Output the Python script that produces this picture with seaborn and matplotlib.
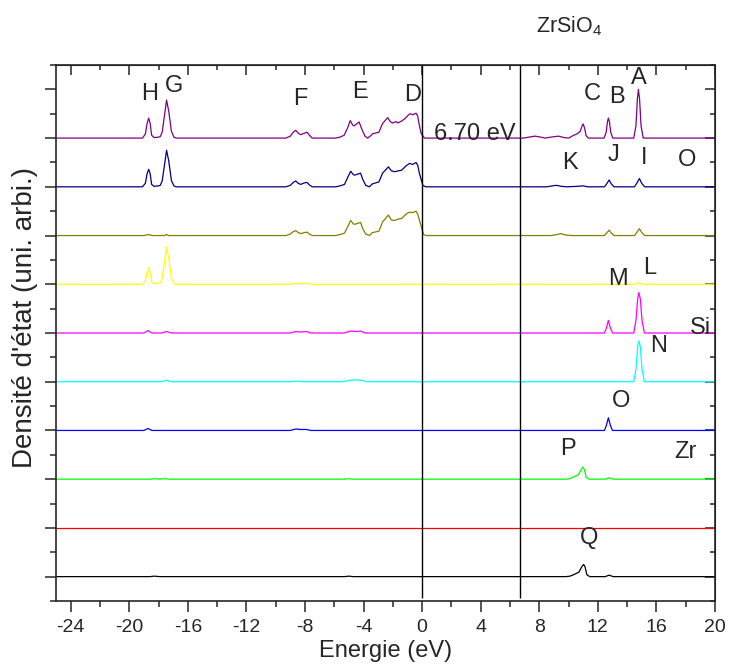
import numpy as np
import pandas as pd
import matplotlib
matplotlib.use('Agg')
import matplotlib.pyplot as plt
import seaborn as sns

# partial DOS curves: (energy eV, density above own baseline)
black = [(-25, 0), (-18.6, 0), (-18.3, 0.01), (-17.9, 0), (-5.3, 0), (-5.0, 0.01), (-4.7, 0),
         (9.8, 0), (10.1, 0.01), (10.35, 0.04), (10.7, 0.09), (10.9, 0.2), (11.03, 0.25),
         (11.13, 0.2), (11.25, 0.04), (11.45, 0), (12.5, 0), (12.77, 0.03), (13.05, 0), (20, 0)]
red = [(-25, 0), (20, 0)]
green = [(-25, 0), (-18.6, 0), (-18.3, 0.01), (-17.9, 0), (-17.6, 0.01), (-17.2, 0),
         (-5.3, 0), (-5.0, 0.01), (-4.7, 0),
         (9.8, 0), (10.1, 0.01), (10.32, 0.04), (10.66, 0.09), (10.87, 0.2), (10.98, 0.25),
         (11.08, 0.2), (11.2, 0.04), (11.4, 0), (12.5, 0), (12.77, 0.03), (13.05, 0), (20, 0)]
blue = [(-25, 0), (-19.0, 0), (-18.72, 0.04), (-18.45, 0),
        (-9.0, 0), (-8.63, 0.03), (-8.3, 0.02), (-7.9, 0.02), (-7.6, 0),
        (12.45, 0), (12.58, 0.1), (12.72, 0.26), (12.86, 0.1), (13.0, 0), (20, 0)]
cyan = [(-25, 0), (-17.8, 0), (-17.45, 0.03), (-17.1, 0),
        (-9.0, 0), (-8.5, 0.01), (-8.0, 0),
        (-5.5, 0), (-4.9, 0.03), (-4.5, 0.04), (-4.1, 0.03), (-3.8, 0),
        (14.45, 0), (14.6, 0.25), (14.72, 0.72), (14.8, 0.84), (14.9, 0.72), (15.02, 0.25),
        (15.18, 0), (20, 0)]
magenta = [(-25, 0), (-19.0, 0), (-18.72, 0.05), (-18.45, 0), (-17.8, 0), (-17.45, 0.03), (-17.1, 0),
           (-9.0, 0), (-8.63, 0.03), (-8.3, 0.02), (-7.9, 0.03), (-7.6, 0),
           (-5.3, 0), (-4.9, 0.04), (-4.5, 0.03), (-4.2, 0.04), (-3.9, 0),
           (12.45, 0), (12.58, 0.1), (12.72, 0.26), (12.86, 0.1), (13.0, 0),
           (14.45, 0), (14.6, 0.25), (14.72, 0.7), (14.8, 0.83), (14.9, 0.7), (15.02, 0.25),
           (15.18, 0), (20, 0)]
yellow = [(-25, 0), (-19.1, 0), (-18.9, 0.07), (-18.78, 0.25), (-18.67, 0.34), (-18.57, 0.25),
          (-18.47, 0.05), (-18.3, 0.01), (-18.0, 0.02), (-17.88, 0.03), (-17.75, 0.12),
          (-17.6, 0.43), (-17.45, 0.76), (-17.3, 0.53), (-17.12, 0.13), (-16.95, 0.02), (-16.8, 0),
          (-9.0, 0), (-8.63, 0.02), (-8.3, 0.01), (-7.85, 0.02), (-7.5, 0),
          (14.5, 0), (14.8, 0.03), (15.1, 0), (20, 0)]
olive = [(-25, 0), (-19.0, 0), (-18.7, 0.02), (-18.4, 0), (-17.6, 0), (-17.45, 0.02), (-17.3, 0),
         (-9.3, 0), (-9.0, 0.03), (-8.8, 0.08), (-8.63, 0.1), (-8.45, 0.06), (-8.29, 0.04),
         (-8.05, 0.06), (-7.85, 0.07), (-7.7, 0.03), (-7.5, 0),
         (-5.9, 0), (-5.6, 0.02), (-5.3, 0.05), (-5.1, 0.17), (-4.88, 0.31), (-4.7, 0.24),
         (-4.6, 0.23), (-4.2, 0.27), (-4.05, 0.14), (-3.85, 0.03), (-3.6, 0.0), (-3.4, 0.06),
         (-2.95, 0.09), (-2.7, 0.28), (-2.3, 0.42), (-2.1, 0.32), (-1.88, 0.31), (-1.6, 0.34),
         (-1.4, 0.35), (-1.1, 0.44), (-0.86, 0.48), (-0.65, 0.47), (-0.41, 0.5), (-0.3, 0.44),
         (-0.12, 0.25), (0.1, 0.02), (0.3, 0),
         (8.8, 0), (9.2, 0.02), (9.47, 0.04), (9.8, 0.01), (10.2, 0),
         (12.45, 0), (12.6, 0.05), (12.77, 0.11), (12.92, 0.05), (13.1, 0),
         (14.5, 0), (14.65, 0.06), (14.84, 0.14), (15.0, 0.06), (15.2, 0), (20, 0)]
navy = [(-25, 0), (-19.1, 0), (-18.9, 0.07), (-18.78, 0.27), (-18.67, 0.36), (-18.57, 0.27),
        (-18.47, 0.05), (-18.3, 0.01), (-18.0, 0.02), (-17.88, 0.03), (-17.75, 0.12),
        (-17.6, 0.43), (-17.45, 0.75), (-17.3, 0.53), (-17.12, 0.13), (-16.95, 0.02), (-16.8, 0),
        (-9.3, 0), (-9.0, 0.03), (-8.8, 0.09), (-8.63, 0.12), (-8.45, 0.07), (-8.29, 0.05),
        (-8.05, 0.08), (-7.85, 0.09), (-7.7, 0.04), (-7.5, 0),
        (-5.9, 0), (-5.6, 0.02), (-5.3, 0.05), (-5.1, 0.18), (-4.88, 0.32), (-4.7, 0.25),
        (-4.6, 0.24), (-4.2, 0.28), (-4.05, 0.15), (-3.85, 0.03), (-3.6, 0.0), (-3.4, 0.06),
        (-2.95, 0.1), (-2.7, 0.28), (-2.3, 0.41), (-2.1, 0.33), (-1.88, 0.31), (-1.6, 0.33),
        (-1.4, 0.34), (-1.1, 0.43), (-0.86, 0.48), (-0.65, 0.46), (-0.41, 0.5), (-0.3, 0.44),
        (-0.18, 0.27), (0.05, 0.03), (0.25, 0),
        (8.5, 0), (8.9, 0.02), (9.18, 0.03), (9.5, 0.01), (9.9, 0), (10.6, 0.01), (11.0, 0.02), (11.3, 0),
        (12.45, 0), (12.6, 0.06), (12.77, 0.14), (12.92, 0.06), (13.1, 0),
        (14.5, 0), (14.65, 0.07), (14.84, 0.17), (15.0, 0.07), (15.2, 0), (20, 0)]
purple = [(-25, 0), (-19.1, 0), (-18.9, 0.08), (-18.78, 0.3), (-18.67, 0.41), (-18.57, 0.3),
          (-18.47, 0.06), (-18.3, 0.01), (-18.0, 0.02), (-17.88, 0.03), (-17.75, 0.12),
          (-17.6, 0.45), (-17.45, 0.78), (-17.3, 0.55), (-17.12, 0.14), (-16.95, 0.02), (-16.8, 0),
          (-9.3, 0), (-9.0, 0.04), (-8.8, 0.12), (-8.63, 0.16), (-8.45, 0.1), (-8.29, 0.07),
          (-8.05, 0.1), (-7.85, 0.12), (-7.7, 0.06), (-7.5, 0),
          (-5.9, 0), (-5.6, 0.02), (-5.32, 0.06), (-5.1, 0.2), (-4.91, 0.36), (-4.75, 0.27),
          (-4.64, 0.25), (-4.3, 0.33), (-4.1, 0.17), (-3.9, 0.04), (-3.72, 0.0), (-3.5, 0.05),
          (-3.38, 0.09), (-2.95, 0.12), (-2.7, 0.3), (-2.35, 0.42), (-2.15, 0.33), (-2.01, 0.31),
          (-1.78, 0.34), (-1.66, 0.31), (-1.4, 0.35), (-1.21, 0.39), (-0.95, 0.47), (-0.82, 0.5),
          (-0.64, 0.48), (-0.41, 0.51), (-0.3, 0.45), (-0.22, 0.31), (-0.07, 0.1), (0.16, 0.0),
          (6.9, 0), (7.3, 0.02), (7.7, 0.04), (8.1, 0.02), (8.4, 0.0), (8.8, 0.02), (9.3, 0.04),
          (9.7, 0.01), (10.0, 0), (10.3, 0.05), (10.6, 0.09), (10.8, 0.14), (10.92, 0.25),
          (11.0, 0.29), (11.1, 0.2), (11.2, 0.05), (11.35, 0),
          (12.42, 0), (12.57, 0.12), (12.66, 0.34), (12.72, 0.41), (12.79, 0.34), (12.88, 0.12), (13.02, 0),
          (14.45, 0), (14.6, 0.25), (14.7, 0.8), (14.77, 1.0), (14.85, 0.8), (14.95, 0.25), (15.1, 0),
          (20, 0)]

curve_names = ['black', 'red', 'green', 'blue', 'cyan', 'magenta', 'yellow', 'olive', 'navy', 'purple']
curves = [black, red, green, blue, cyan, magenta, yellow, olive, navy, purple]
curve_colors = ['#000000', '#FF0000', '#00FF00', '#0000FF', '#00FFFF',
                '#FF00FF', '#FFFF00', '#808000', '#000080', '#800080']

peak_labels = ['H', 'G', 'F', 'E', 'D', 'C', 'B', 'A', '6.70 eV', 'K', 'J', 'I', 'O',
               'M', 'L', 'Si', 'N', 'O', 'P', 'Zr', 'Q']
label_x = [-18.6, -16.97, -8.33, -4.25, -0.64, 11.64, 13.29, 14.77, 3.63, 10.07, 13.1, 15.16, 18.1,
           13.4, 15.57, 19.04, 16.18, 13.58, 9.93, 18.0, 11.39]
label_y = [9.91, 10.07, 9.81, 9.95, 9.88, 9.90, 9.85, 10.24, 9.08, 8.49, 8.66, 8.6, 8.56,
           6.1, 6.34, 5.1, 4.73, 3.6, 2.62, 2.56, 0.79]
gap_lines = [0, 6.70]

sns.set_style('ticks')
plt.rcParams['font.family'] = ['Liberation Sans', 'DejaVu Sans']
plt.rcParams['axes.unicode_minus'] = False
plt.rcParams['mathtext.fontset'] = 'custom'
plt.rcParams['mathtext.rm'] = 'Liberation Sans'

# stack the curves one unit apart
rows = []
for i, (name, pts) in enumerate(zip(curve_names, curves)):
    for x, y in pts:
        rows.append((name, x, y + i))
df = pd.DataFrame(rows, columns=['curve', 'energie', 'dos'])

fig = plt.figure(figsize=(7.3, 6.66), dpi=100)
ax = fig.add_axes([56 / 730, 1 - 601 / 666, 659 / 730, 536 / 666])

sns.lineplot(data=df, x='energie', y='dos', hue='curve', hue_order=curve_names,
             palette=curve_colors, estimator=None, sort=False, legend=False,
             linewidth=0.9, ax=ax)
ax.vlines(gap_lines, -0.43, 10.5, colors='k', linewidth=1.0)

for s, x, y in zip(peak_labels, label_x, label_y):
    ax.text(x, y, s, ha='center', va='center', fontsize=17)
ax.text(10.07, 11.3, r'ZrSiO$_\mathregular{4}$', ha='center', va='center', fontsize=15.5)

ax.set_xlim(-25, 20)
ax.set_ylim(-0.5, 10.5)
major_x = np.arange(-24, 21, 4)
minor_x = np.arange(-22, 20, 4)
major_y = np.arange(0, 11)
minor_y = np.arange(-0.5, 11, 1)
ax.set_xticks(major_x)
ax.set_xticks(minor_x, minor=True)
ax.set_yticks(major_y)
ax.set_yticks(minor_y, minor=True)
ax.set_yticklabels([])
ax.tick_params(which='major', direction='out', length=8, width=1.1, labelsize=14, pad=5)
ax.tick_params(which='minor', direction='out', length=4.5, width=1.1)
for sp in ax.spines.values():
    sp.set_linewidth(1.2)
    sp.set_visible(True)

top = ax.secondary_xaxis('top')
top.set_xticks(major_x)
top.set_xticks(minor_x, minor=True)
top.tick_params(which='major', direction='in', length=7, width=1.1, labeltop=False)
top.tick_params(which='minor', direction='in', length=3.5, width=1.1)
right = ax.secondary_yaxis('right')
right.set_yticks(major_y)
right.set_yticks(minor_y, minor=True)
right.tick_params(which='major', direction='in', length=7, width=1.1, labelright=False)
right.tick_params(which='minor', direction='in', length=3.5, width=1.1)

ax.set_xlabel('Energie (eV)', fontsize=17, va='center')
ax.xaxis.set_label_coords(0.5, -(651 - 601) / 536)
ax.set_ylabel('')
fig.text(25 / 730, 1 - 317 / 666, "Densité d'état (uni. arbi.)", rotation=90,
         ha='center', va='center', fontsize=20)

fig.savefig('out.png', dpi=100)
